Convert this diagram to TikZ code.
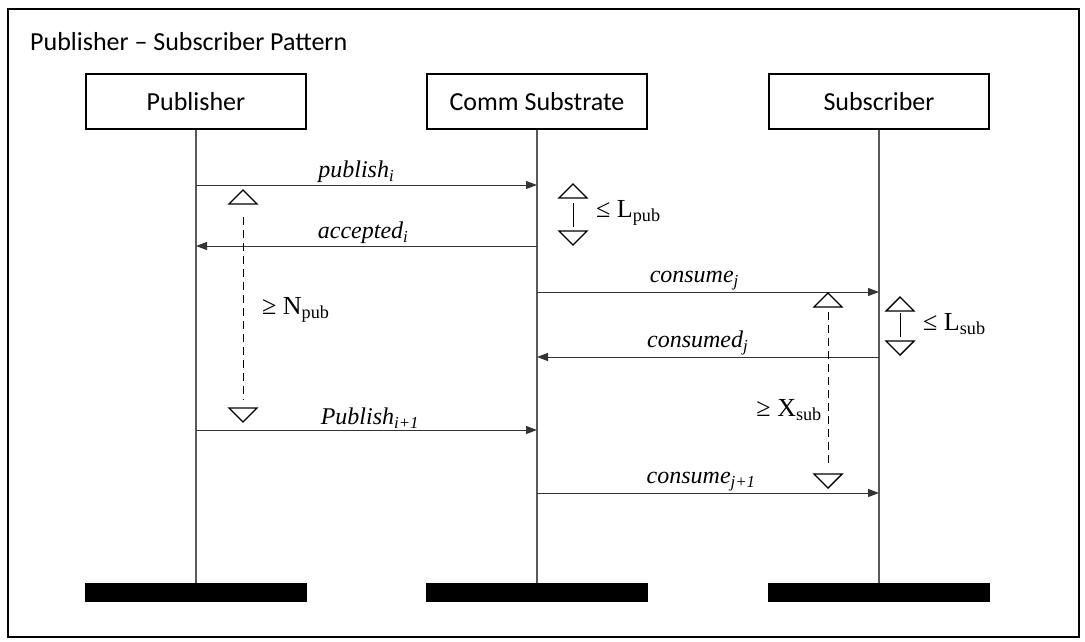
\documentclass[tikz,border=0pt]{standalone}
\usepackage{fontspec}
\setmainfont{Liberation Serif}
\newfontfamily\boxfont{Carlito}
\usetikzlibrary{arrows.meta,positioning}

\tikzset{
  actor/.style={draw,line width=1.4pt,minimum width=220pt,minimum height=55pt,inner sep=0pt,
    font=\boxfont\fontsize{26}{30}\selectfont},
  bar/.style={fill=black,minimum width=222pt,minimum height=19pt,inner sep=0pt},
  life/.style={draw=black!65,line width=1.1pt},
  msg/.style={draw=black!80,line width=1pt,-{Triangle[length=11pt,width=8pt]}},
  lbl/.style={font=\itshape\fontsize{24}{28}\selectfont,inner sep=1.5pt},
  bound/.style={font=\fontsize{26}{30}\selectfont,inner sep=0pt},
  tick/.style={line width=1.4pt},
  span/.style={line width=1pt},
  gap/.style={line width=1pt,dash pattern=on 8pt off 5pt},
}
% open triangles marking the ends of a timing interval
\newcommand\uptri[1]{\draw[tick] (#1) -- ++(-14,14) -- ++(28,0) -- cycle;}
\newcommand\downtri[1]{\draw[tick] (#1) -- ++(-14,-14) -- ++(28,0) -- cycle;}

\begin{document}
\begin{tikzpicture}[x=1pt,y=-1pt]
\useasboundingbox (0,0) rectangle (1085,642);

% frame and title
\draw[line width=1.3pt] (8,9) rectangle (1079,637);
\node[font=\boxfont\fontsize{26}{30}\selectfont,anchor=base west,inner sep=0pt] (title) at (30,51)
  {Publisher – Subscriber Pattern};

% participants
\node[actor] (pub) at (196,101.5) {Publisher};
\node[actor] (com) at (537,101.5) {Comm Substrate};
\node[actor] (sub) at (879,101.5) {Subscriber};

\node[bar] (pubbar) at (196,592.5) {};
\node[bar] (combar) at (537,592.5) {};
\node[bar] (subbar) at (879,592.5) {};

% lifelines
\draw[life] (pub.south) -- (pubbar.north);
\draw[life] (com.south) -- (combar.north);
\draw[life] (sub.south) -- (subbar.north);

% message points on each lifeline
\foreach \who in {pub,com,sub}
  \foreach \k/\y in {1/185,2/246,3/292,4/357,5/430,6/493}
    \coordinate (\who\k) at (\who.south |- 0,\y);

% messages
\draw[msg] (pub1) -- node[lbl,above,pos=0.47] {publish\textsubscript{i}} (com1);
\draw[msg] (com2) -- node[lbl,above,pos=0.51] {accepted\textsubscript{i}} (pub2);
\draw[msg] (com3) -- node[lbl,above,pos=0.46] {consume\textsubscript{j}} (sub3);
\draw[msg] (sub4) -- node[lbl,above,pos=0.53] {consumed\textsubscript{j}} (com4);
\draw[msg] (pub5) -- node[lbl,above,pos=0.51] {Publish\textsubscript{i+1}} (com5);
\draw[msg] (com6) -- node[lbl,above,pos=0.48] {consume\textsubscript{j+1}} (sub6);

% minimum gap between publishes
\coordinate (npubtop) at (243,190);
\coordinate (npubbot) at (243,422);
\uptri{npubtop}
\downtri{npubbot}
\draw[gap] ([yshift=-27pt]npubtop) -- ([yshift=22pt]npubbot);
\node[bound,anchor=west] (npub) at (262,310) {≥ N\textsubscript{pub}};

% publish latency
\coordinate (lpubtop) at (573,184);
\coordinate (lpubbot) at (573,245);
\uptri{lpubtop}
\downtri{lpubbot}
\draw[span] ([yshift=-19pt]lpubtop) -- ([yshift=18pt]lpubbot);
\node[bound,anchor=west] (lpub) at (596,213) {≤ L\textsubscript{pub}};

% minimum gap between consumes
\coordinate (xsubtop) at (828,293);
\coordinate (xsubbot) at (828,488);
\uptri{xsubtop}
\downtri{xsubbot}
\draw[gap] ([yshift=-19pt]xsubtop) -- ([yshift=21pt]xsubbot);
\node[bound,anchor=east] (xsub) at (822,410) {≥ X\textsubscript{sub}};

% consume latency
\coordinate (lsubtop) at (900,297);
\coordinate (lsubbot) at (900,355);
\uptri{lsubtop}
\downtri{lsubbot}
\draw[span] ([yshift=-16pt]lsubtop) -- ([yshift=18pt]lsubbot);
\node[bound,anchor=west] (lsub) at (923,324) {≤ L\textsubscript{sub}};
\end{tikzpicture}
\end{document}
